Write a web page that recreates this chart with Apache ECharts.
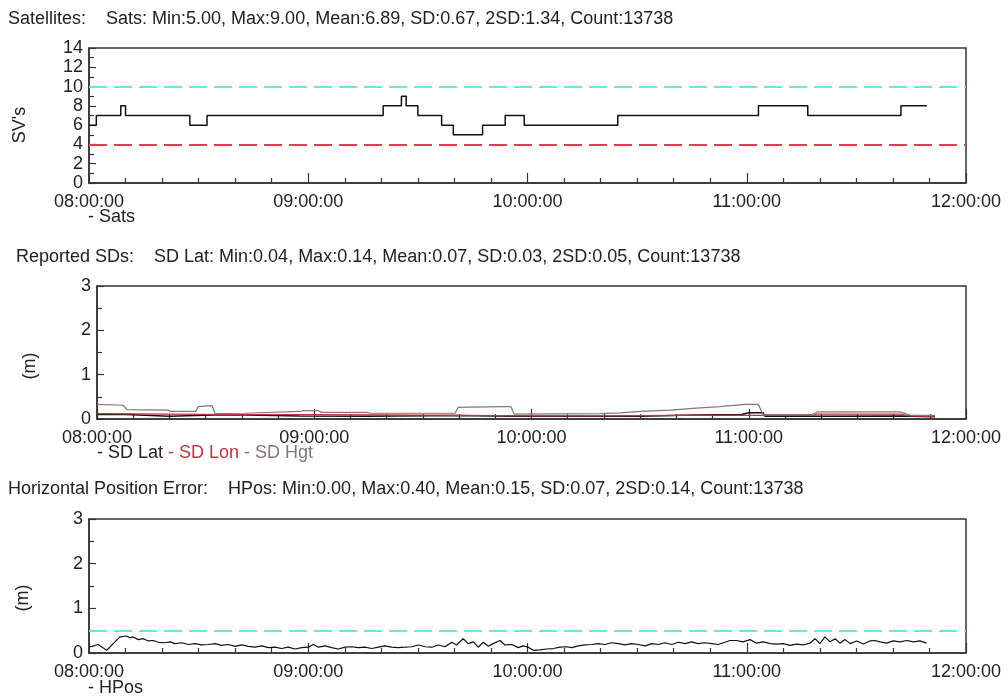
<!DOCTYPE html>
<html>
<head>
<meta charset="utf-8">
<script src="https://cdn.jsdelivr.net/npm/echarts@6/dist/echarts.min.js"></script>
<style>
html,body{margin:0;padding:0;background:#fff;}
#chart{width:1008px;height:698px;}
</style>
</head>
<body>
<div id="chart"></div>
<script>
// ---- tick labels (minutes from 08:00:00) ----
const xTickLabels = ['08:00:00', '09:00:00', '10:00:00', '11:00:00', '12:00:00'];

// ---- Satellites (step changes) ----
const satsTime  = [0, 2, 8.7, 10, 27.6, 32.3, 80.5, 85.5, 86.8, 90, 96.5, 99.7, 107.7, 113.9, 119.1, 144.7, 183.2, 196.7, 222.2, 229.3];
const satsValue = [6, 7, 8,   7,  6,    7,    8,    9,    8,    7,  6,    5,    6,     7,     6,     7,     8,     7,     8,     8];
const satsUpper = 10;
const satsLower = 4;

// ---- Reported SDs ----
const sdHgtTime  = [0, 7.2, 8.3, 19.6, 20.2, 27.3, 27.9, 31.8, 32.6, 40.9, 41.4, 56, 57, 61, 62, 74.6, 75.4, 98.9, 99.7, 103, 112.7, 114.3, 115.2, 139, 144.5, 150, 158.3, 166.5, 172, 179, 182.6, 184, 197.5, 198.9, 221.8, 224.5, 231.4];
const sdHgtValue = [0.33, 0.31, 0.21, 0.2, 0.17, 0.17, 0.28, 0.3, 0.12, 0.13, 0.16, 0.17, 0.19, 0.19, 0.15, 0.15, 0.13, 0.13, 0.26, 0.27, 0.28, 0.28, 0.11, 0.12, 0.14, 0.17, 0.2, 0.25, 0.28, 0.33, 0.33, 0.1, 0.1, 0.16, 0.16, 0.09, 0.08];
const sdLonTime  = [0, 20, 40, 60, 80, 100, 120, 140, 160, 180, 197.5, 198.9, 221.8, 224.5, 231.4];
const sdLonValue = [0.12, 0.11, 0.1, 0.1, 0.09, 0.08, 0.07, 0.07, 0.08, 0.08, 0.08, 0.11, 0.11, 0.07, 0.06];
const sdLatTime  = [0, 8, 8.5, 20, 32, 41, 56, 75, 99, 115, 140, 150, 165, 178, 180, 184, 184.5, 198, 222, 231.4];
const sdLatValue = [0.1, 0.1, 0.07, 0.06, 0.09, 0.09, 0.07, 0.06, 0.08, 0.06, 0.06, 0.06, 0.09, 0.1, 0.14, 0.14, 0.06, 0.06, 0.07, 0.05];

// ---- Horizontal Position Error ----
const hposTime = [0, 0.8, 2.5, 3.8, 4.8, 5.7, 7.1, 8.5, 9.4, 10.3, 11.2, 12.1, 13.5, 14.9, 16.2, 17.6, 19.0, 20.8, 22.2, 23.5, 25.4, 27.2, 29.0, 30.8, 32.6, 34.5, 36.3, 38.1, 40.0, 41.8, 43.6, 45.4, 47.3, 49.1, 50.9, 52.7, 54.5, 56.4, 58.2, 60.0, 61.4, 62.8, 64.6, 66.4, 68.2, 70.1, 71.9, 73.7, 75.5, 77.4, 79.2, 81.0, 82.8, 84.6, 86.5, 88.3, 90.1, 92.0, 93.8, 95.6, 97.4, 99.3, 100.6, 102.4, 103.8, 105.2, 106.5, 107.9, 109.3, 110.6, 112.5, 113.8, 115.7, 117.5, 118.8, 120.2, 121.6, 123.4, 125.3, 127.1, 128.9, 130.7, 132.1, 133.9, 135.7, 137.6, 139.4, 141.2, 143.0, 144.9, 146.7, 148.5, 150.3, 152.2, 154.0, 155.8, 157.6, 159.5, 161.3, 163.1, 164.9, 166.7, 168.6, 170.4, 172.2, 174.0, 175.4, 177.2, 179.0, 180.9, 182.7, 184.5, 186.4, 188.2, 190.0, 191.8, 193.7, 195.5, 197.3, 198.7, 200.0, 201.4, 202.8, 204.2, 205.5, 206.9, 208.3, 210.1, 211.9, 213.7, 215.1, 216.5, 218.3, 220.1, 221.9, 223.8, 225.6, 227.4, 229.2];
const hposValue = [0.14, 0.15, 0.19, 0.12, 0.06, 0.13, 0.25, 0.36, 0.37, 0.38, 0.34, 0.36, 0.30, 0.32, 0.27, 0.28, 0.24, 0.23, 0.25, 0.21, 0.23, 0.19, 0.21, 0.18, 0.19, 0.21, 0.17, 0.19, 0.15, 0.18, 0.15, 0.13, 0.16, 0.12, 0.13, 0.10, 0.13, 0.09, 0.12, 0.13, 0.19, 0.13, 0.16, 0.12, 0.09, 0.13, 0.14, 0.12, 0.13, 0.10, 0.13, 0.16, 0.13, 0.12, 0.13, 0.14, 0.18, 0.14, 0.13, 0.18, 0.14, 0.24, 0.18, 0.32, 0.21, 0.25, 0.13, 0.24, 0.15, 0.21, 0.28, 0.18, 0.19, 0.12, 0.16, 0.13, 0.06, 0.07, 0.09, 0.10, 0.13, 0.14, 0.12, 0.16, 0.18, 0.19, 0.21, 0.19, 0.23, 0.21, 0.18, 0.21, 0.19, 0.16, 0.21, 0.19, 0.23, 0.19, 0.24, 0.21, 0.25, 0.21, 0.23, 0.21, 0.19, 0.24, 0.28, 0.28, 0.25, 0.30, 0.22, 0.25, 0.21, 0.20, 0.21, 0.17, 0.20, 0.18, 0.22, 0.32, 0.21, 0.36, 0.25, 0.32, 0.22, 0.30, 0.21, 0.27, 0.20, 0.27, 0.28, 0.25, 0.22, 0.27, 0.25, 0.28, 0.25, 0.27, 0.22];
const hposLimit = 0.5;

const titles = [
  'Satellites:    Sats: Min:5.00, Max:9.00, Mean:6.89, SD:0.67, 2SD:1.34, Count:13738',
  'Reported SDs:    SD Lat: Min:0.04, Max:0.14, Mean:0.07, SD:0.03, 2SD:0.05, Count:13738',
  'Horizontal Position Error:    HPos: Min:0.00, Max:0.40, Mean:0.15, SD:0.07, 2SD:0.14, Count:13738'
];

const FONT = 'Liberation Sans, Arial, sans-serif';
const FS = 18;
const TXT = '#222';
const CYAN = '#5cf0dc';
const RED = '#e23a4e';
const LON = '#c8323c';
const HGT = '#857575';

function zip(t, v) { return t.map((x, i) => [x, v[i]]); }

function xAxis(gi) {
  return {
    type: 'value', gridIndex: gi, min: 0, max: 240, interval: 60,
    axisLine: { show: true, onZero: false, lineStyle: { color: '#333', width: 1.5 } },
    axisTick: { show: true, inside: true, length: 10, lineStyle: { color: '#333', width: 1.2 } },
    minorTick: { show: true, splitNumber: 6, length: 5, lineStyle: { color: '#333', width: 1.2 } },
    axisLabel: { show: true, margin: 10, fontFamily: FONT, fontSize: FS, color: TXT,
      formatter: v => xTickLabels[Math.round(v / 60)] || '' },
    splitLine: { show: false }
  };
}
function yAxis(gi, max, interval) {
  return {
    type: 'value', gridIndex: gi, min: 0, max: max, interval: interval,
    axisLine: { show: true, lineStyle: { color: '#333', width: 1.5 } },
    axisTick: { show: true, inside: true, length: 7, lineStyle: { color: '#333', width: 1.2 } },
    minorTick: { show: true, splitNumber: 2, length: 5, lineStyle: { color: '#333', width: 1.2 } },
    axisLabel: { show: true, margin: 6, fontFamily: FONT, fontSize: FS, color: TXT },
    splitLine: { show: false }
  };
}
function hLine(y, color) {
  return {
    silent: true, symbol: 'none', label: { show: false },
    lineStyle: { color: color, width: 2, type: [18, 7] },
    data: [{ yAxis: y }]
  };
}

const F = FS + 'px ' + FONT;
const chart = echarts.init(document.getElementById('chart'), null, { renderer: 'canvas' });
chart.setOption({
  backgroundColor: '#fff',
  animation: false,
  title: [
    { text: titles[0], left: 8, top: 10 },
    { text: titles[1], left: 16, top: 248 },
    { text: titles[2], left: 8, top: 480 }
  ].map(t => Object.assign(t, { padding: 0, textStyle: { fontFamily: FONT, fontSize: FS, fontWeight: 'normal', color: TXT } })),
  grid: [
    { left: 89, top: 48, width: 877, height: 135, show: true, borderColor: '#333', borderWidth: 1.5, containLabel: false },
    { left: 97, top: 286, width: 869, height: 133, show: true, borderColor: '#333', borderWidth: 1.5, containLabel: false },
    { left: 89, top: 519, width: 877, height: 134, show: true, borderColor: '#333', borderWidth: 1.5, containLabel: false }
  ],
  xAxis: [xAxis(0), xAxis(1), xAxis(2)],
  yAxis: [yAxis(0, 14, 2), yAxis(1, 3, 1), yAxis(2, 3, 1)],
  graphic: [
    { type: 'text', x: 20, y: 125, rotation: Math.PI / 2, style: { text: "SV's", font: F, fill: TXT, align: 'center', verticalAlign: 'middle' } },
    { type: 'text', x: 30, y: 366, rotation: Math.PI / 2, style: { text: '(m)', font: F, fill: TXT, align: 'center', verticalAlign: 'middle' } },
    { type: 'text', x: 23, y: 598, rotation: Math.PI / 2, style: { text: '(m)', font: F, fill: TXT, align: 'center', verticalAlign: 'middle' } },
    { type: 'text', x: 88, y: 217, style: { text: '- Sats', font: F, fill: TXT, verticalAlign: 'middle' } },
    { type: 'text', x: 97, y: 453, style: {
        text: '{a|- SD Lat }{b|- SD Lon }{c|- SD Hgt}', font: F, verticalAlign: 'middle',
        rich: { a: { fill: TXT, font: F }, b: { fill: LON, font: F }, c: { fill: HGT, font: F } } } },
    { type: 'text', x: 88, y: 688, style: { text: '- HPos', font: F, fill: TXT, verticalAlign: 'middle' } }
  ],
  series: [
    { name: 'Sats', type: 'line', xAxisIndex: 0, yAxisIndex: 0, step: 'end', symbol: 'none',
      lineStyle: { color: '#111', width: 1.5 }, data: zip(satsTime, satsValue),
      markLine: { silent: true, symbol: 'none', label: { show: false }, animation: false,
        data: [
          { yAxis: satsUpper, lineStyle: { color: CYAN, width: 2, type: [18, 7] } },
          { yAxis: satsLower, lineStyle: { color: RED, width: 2, type: [18, 7] } }
        ] } },
    { name: 'SD Lat', type: 'line', xAxisIndex: 1, yAxisIndex: 1, symbol: 'none',
      lineStyle: { color: '#111', width: 1.5 }, data: zip(sdLatTime, sdLatValue) },
    { name: 'SD Lon', type: 'line', xAxisIndex: 1, yAxisIndex: 1, symbol: 'none',
      lineStyle: { color: LON, width: 1.3 }, data: zip(sdLonTime, sdLonValue) },
    { name: 'SD Hgt', type: 'line', xAxisIndex: 1, yAxisIndex: 1, symbol: 'none',
      lineStyle: { color: HGT, width: 1.2 }, data: zip(sdHgtTime, sdHgtValue) },
    { name: 'HPos', type: 'line', xAxisIndex: 2, yAxisIndex: 2, symbol: 'none',
      lineStyle: { color: '#111', width: 1.2 }, data: zip(hposTime, hposValue),
      markLine: hLine(hposLimit, CYAN) }
  ]
});
</script>
</body>
</html>
